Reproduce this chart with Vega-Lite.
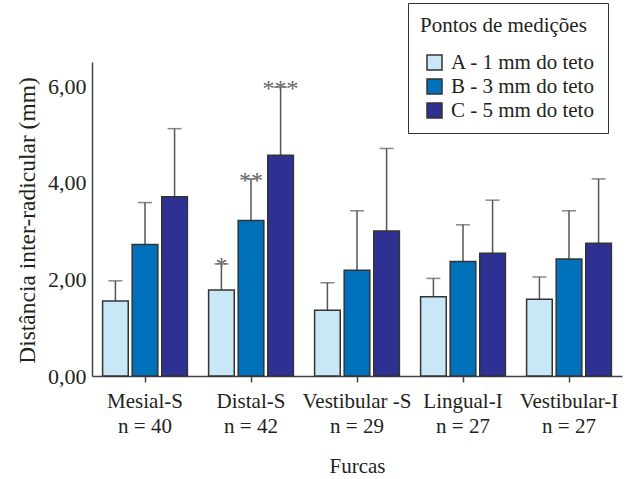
{
  "$schema": "https://vega.github.io/schema/vega-lite/v6.json",
  "width": 530,
  "height": 314,
  "autosize": {"type": "none"},
  "padding": {"left": 92, "top": 62, "right": 5, "bottom": 103},
  "background": "white",
  "config": {
    "font": "Liberation Serif",
    "view": {"stroke": null},
    "axis": {"grid": false, "domainColor": "#444", "domainWidth": 1.5, "labelColor": "#231f20", "titleColor": "#231f20", "labelFont": "Liberation Serif", "titleFont": "Liberation Serif", "labelFontSize": 21, "titleFontSize": 21, "titleFontWeight": "normal"},
    "legend": {"labelFont": "Liberation Serif", "titleFont": "Liberation Serif"},
    "text": {"font": "Liberation Serif"}
  },
  "data": {
    "values": [
      {"furca": "Mesial-S|n = 40", "ponto": "A - 1 mm do teto", "media": 1.55, "sup": 1.97, "sig": ""},
      {"furca": "Mesial-S|n = 40", "ponto": "B - 3 mm do teto", "media": 2.72, "sup": 3.59, "sig": ""},
      {"furca": "Mesial-S|n = 40", "ponto": "C - 5 mm do teto", "media": 3.71, "sup": 5.12, "sig": ""},
      {"furca": "Distal-S|n = 42", "ponto": "A - 1 mm do teto", "media": 1.78, "sup": 2.32, "sig": "*"},
      {"furca": "Distal-S|n = 42", "ponto": "B - 3 mm do teto", "media": 3.22, "sup": 4.08, "sig": "**"},
      {"furca": "Distal-S|n = 42", "ponto": "C - 5 mm do teto", "media": 4.57, "sup": 5.98, "sig": "***"},
      {"furca": "Vestibular -S|n = 29", "ponto": "A - 1 mm do teto", "media": 1.36, "sup": 1.93, "sig": ""},
      {"furca": "Vestibular -S|n = 29", "ponto": "B - 3 mm do teto", "media": 2.19, "sup": 3.42, "sig": ""},
      {"furca": "Vestibular -S|n = 29", "ponto": "C - 5 mm do teto", "media": 3.00, "sup": 4.71, "sig": ""},
      {"furca": "Lingual-I|n = 27", "ponto": "A - 1 mm do teto", "media": 1.64, "sup": 2.02, "sig": ""},
      {"furca": "Lingual-I|n = 27", "ponto": "B - 3 mm do teto", "media": 2.37, "sup": 3.13, "sig": ""},
      {"furca": "Lingual-I|n = 27", "ponto": "C - 5 mm do teto", "media": 2.54, "sup": 3.64, "sig": ""},
      {"furca": "Vestibular-I|n = 27", "ponto": "A - 1 mm do teto", "media": 1.59, "sup": 2.05, "sig": ""},
      {"furca": "Vestibular-I|n = 27", "ponto": "B - 3 mm do teto", "media": 2.42, "sup": 3.42, "sig": ""},
      {"furca": "Vestibular-I|n = 27", "ponto": "C - 5 mm do teto", "media": 2.75, "sup": 4.08, "sig": ""}
    ]
  },
  "encoding": {
    "x": {
      "field": "furca", "type": "nominal", "sort": null,
      "scale": {"paddingInner": 0.2, "paddingOuter": 0.1},
      "axis": {"labelAngle": 0, "labelExpr": "split(datum.label, '|')", "labelLineHeight": 25, "labelPadding": 8, "tickSize": 6, "tickColor": "#444", "tickWidth": 1.5, "title": "Furcas", "titlePadding": 19}
    },
    "xOffset": {"field": "ponto", "type": "nominal", "scale": {"paddingInner": 0.133, "paddingOuter": 0}}
  },
  "layer": [
    {
      "mark": {"type": "rule", "color": "#555", "strokeWidth": 1.5},
      "encoding": {
        "y": {"field": "media", "type": "quantitative"},
        "y2": {"field": "sup"}
      }
    },
    {
      "mark": {"type": "tick", "color": "#555", "thickness": 1.5, "size": 14},
      "encoding": {
        "y": {"field": "sup", "type": "quantitative"}
      }
    },
    {
      "mark": {"type": "bar", "stroke": "#333", "strokeWidth": 1.5},
      "encoding": {
        "y": {
          "field": "media", "type": "quantitative",
          "scale": {"domain": [0, 6.5], "nice": false},
          "axis": {"values": [0, 2, 4, 6], "ticks": false, "tickSize": 0, "labelPadding": 6, "labelFontSize": 22, "labelExpr": "replace(format(datum.value, '.2f'), '.', ',')", "title": "Distância inter-radicular (mm)", "titleFontSize": 23.5, "titleX": -65, "titleY": 158, "titleAngle": -90, "titleBaseline": "middle", "titleAlign": "center"}
        },
        "color": {
          "field": "ponto", "type": "nominal",
          "scale": {"range": ["#c8e8f7", "#0071bb", "#2e3192"]},
          "legend": {
            "title": "Pontos de medições", "orient": "none", "legendX": 316, "legendY": -59,
            "padding": 12, "strokeColor": "#333", "fillColor": "white",
            "titleFontSize": 21, "titleFontWeight": "normal", "titleColor": "#231f20", "titlePadding": 16,
            "labelFontSize": 21, "labelColor": "#231f20", "labelOffset": 6, "symbolOffset": 4,
            "symbolType": "square", "symbolSize": 225, "symbolStrokeColor": "#333", "symbolStrokeWidth": 1.5, "symbolOpacity": 1,
            "rowPadding": 2
          }
        }
      }
    },
    {
      "mark": {"type": "text", "color": "#666", "fontSize": 24, "baseline": "alphabetic", "dy": 9},
      "encoding": {
        "y": {"field": "sup", "type": "quantitative"},
        "text": {"field": "sig"}
      }
    }
  ]
}
